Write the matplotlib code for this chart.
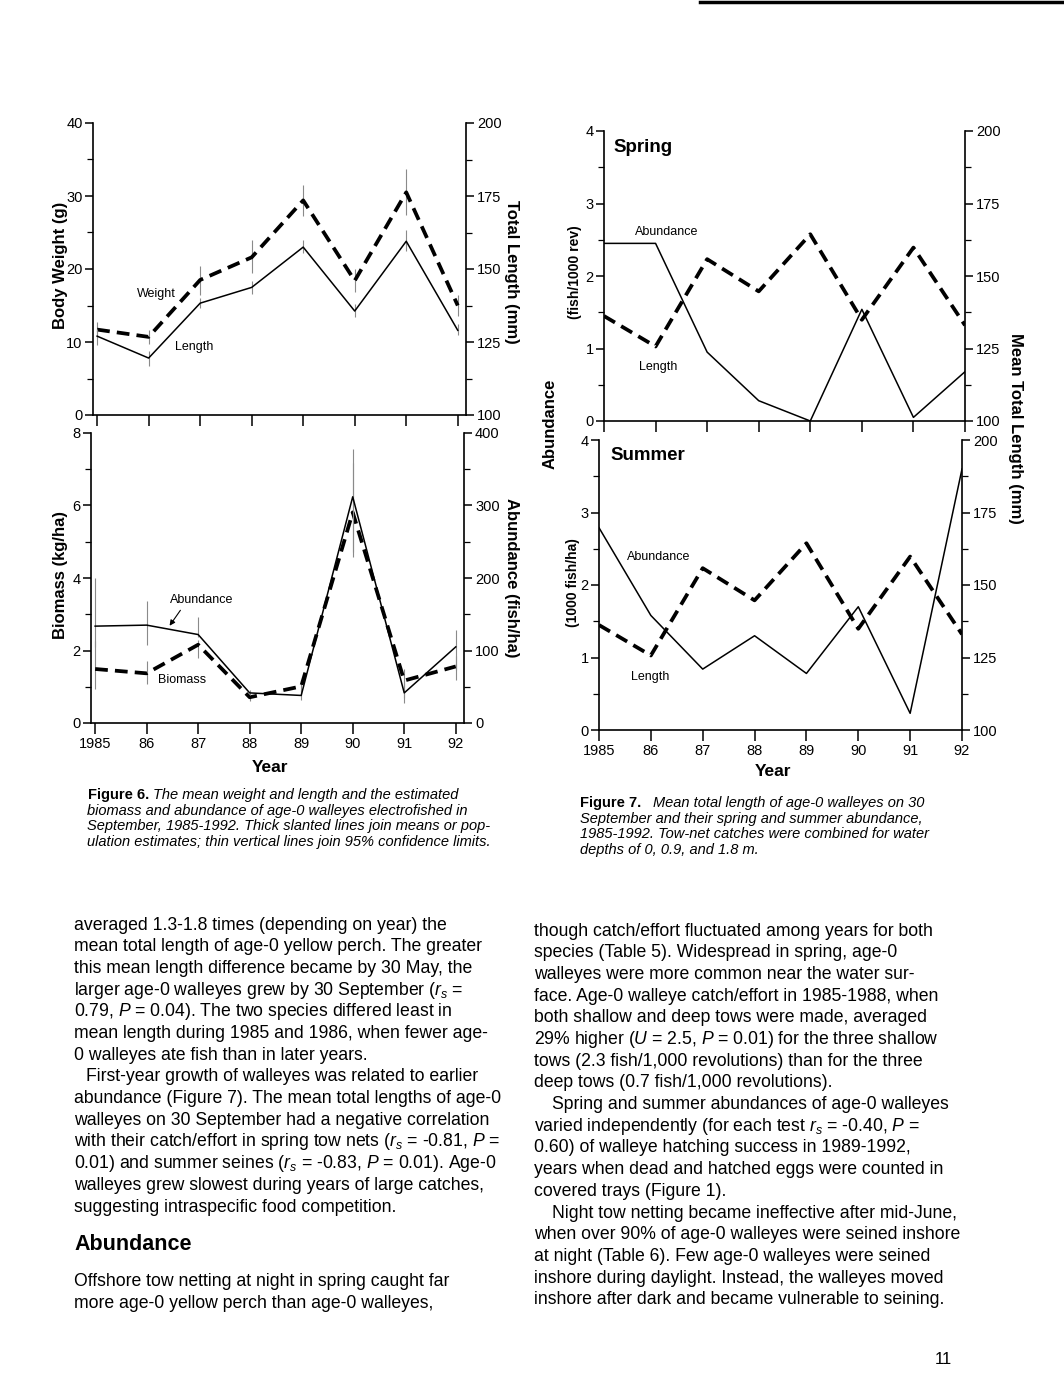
import numpy as np
import matplotlib
matplotlib.use("Agg")
import matplotlib.pyplot as plt
from matplotlib.ticker import MultipleLocator, FixedLocator
from matplotlib.lines import Line2D
from matplotlib.patches import FancyArrowPatch

plt.rcParams['font.family'] = ['Liberation Sans', 'DejaVu Sans']
plt.rcParams['mathtext.fontset'] = 'custom'
plt.rcParams['mathtext.rm'] = 'Liberation Sans'
plt.rcParams['mathtext.it'] = 'Liberation Sans:italic'
plt.rcParams['mathtext.bf'] = 'Liberation Sans:bold'

# %% data
years = [1985, 1986, 1987, 1988, 1989, 1990, 1991, 1992]
year_labels = ['1985', '86', '87', '88', '89', '90', '91', '92']

# Figure 6, top: weight (g, left axis) and length (mm, right axis)
weight = [11.7, 10.7, 18.5, 21.6, 29.4, 18.4, 30.5, 15.0]
weight_lo = [10.6, 9.7, 16.4, 19.4, 27.2, 16.8, 27.4, 13.6]
weight_hi = [12.7, 11.7, 20.4, 24.0, 31.5, 20.0, 33.7, 16.4]
length6 = [127.0, 119.5, 138.3, 143.7, 157.5, 135.6, 159.5, 129.0]
length6_lo = [124.1, 116.7, 136.5, 141.4, 155.4, 133.6, 156.3, 127.4]
length6_hi = [129.3, 122.0, 140.0, 146.0, 159.8, 138.0, 163.2, 131.0]

# Figure 6, bottom: biomass (kg/ha, left) and abundance (fish/ha, right)
biomass = [1.49, 1.37, 2.16, 0.71, 1.01, 5.81, 1.17, 1.56]
biomass_lo = [0.95, 1.07, 1.80, 0.60, 0.85, 4.57, 0.55, 1.20]
biomass_hi = [2.25, 1.72, 2.30, 0.80, 1.20, 7.17, 1.50, 1.85]
abund6 = [133.6, 135.0, 122.0, 41.5, 38.0, 312.0, 41.5, 105.0]
abund6_lo = [105.0, 108.0, 118.0, 38.0, 32.0, 236.0, 35.0, 73.0]
abund6_hi = [200.0, 168.0, 146.0, 45.0, 45.0, 378.0, 55.0, 128.0]

# Figure 7: spring / summer abundance and mean total length
spring = [2.45, 2.45, 0.95, 0.28, 0.0, 1.54, 0.05, 0.68]
summer = [2.79, 1.58, 0.84, 1.30, 0.78, 1.70, 0.23, 3.60]
length7 = [136.2, 125.7, 155.8, 144.7, 164.4, 134.9, 159.8, 133.0]

W, H = 1064, 1380
fig = plt.figure(figsize=(W / 100, H / 100), dpi=100)


def P(x, y):
    return (x / W, 1 - y / H)


def panel(l, t, r, b, xlim, xlab=False):
    ax = fig.add_axes([l / W, 1 - b / H, (r - l) / W, (b - t) / H])
    ax.set_xlim(*xlim)
    ax.spines['top'].set_visible(False)
    ax.spines['right'].set_visible(False)
    for s in ('left', 'bottom'):
        ax.spines[s].set_linewidth(1.2)
    ax.xaxis.set_major_locator(FixedLocator(years))
    ax.set_xticklabels(year_labels if xlab else [])
    ax.tick_params(axis='x', length=8, width=1.1, labelsize=10.5, pad=2)
    ax.tick_params(axis='y', which='major', length=6, width=1.1, labelsize=10.5, pad=1.5)
    ax.tick_params(axis='y', which='minor', length=4, width=0.9)
    tw = ax.twinx()
    for s in ('top', 'left', 'bottom'):
        tw.spines[s].set_visible(False)
    tw.spines['right'].set_linewidth(1.2)
    tw.tick_params(axis='y', which='major', length=6, width=1.1, labelsize=10.5, pad=2)
    tw.tick_params(axis='y', which='minor', length=4, width=0.9)
    return ax, tw


dash = dict(color='black', lw=2.7, linestyle=(0, (3.4, 1.9)), dash_capstyle='butt')
solid = dict(color='black', lw=1.1)
ci = dict(colors='#8a8a8a', lw=0.8)

# %% Figure 6 top
ax, tw = panel(93, 123, 466, 415, (1984.92, 1992.16))
ax.set_ylim(0, 40)
ax.yaxis.set_major_locator(MultipleLocator(10))
ax.yaxis.set_minor_locator(MultipleLocator(5))
tw.set_ylim(100, 200)
tw.yaxis.set_major_locator(MultipleLocator(25))
tw.yaxis.set_minor_locator(MultipleLocator(12.5))
ax.vlines(years, weight_lo, weight_hi, **ci)
tw.vlines(years, length6_lo, length6_hi, **ci)
ax.plot(years, weight, **dash)
tw.plot(years, length6, **solid)

# %% Figure 6 bottom
ax, tw = panel(91, 433, 464, 723, (1984.92, 1992.16), xlab=True)
ax.set_ylim(0, 8)
ax.yaxis.set_major_locator(MultipleLocator(2))
ax.yaxis.set_minor_locator(MultipleLocator(1))
tw.set_ylim(0, 400)
tw.yaxis.set_major_locator(MultipleLocator(100))
tw.yaxis.set_minor_locator(MultipleLocator(50))
ax.vlines(years, biomass_lo, biomass_hi, **ci)
tw.vlines(years, abund6_lo, abund6_hi, **ci)
ax.plot(years, biomass, **dash)
tw.plot(years, abund6, **solid)

# %% Figure 7 spring
ax, tw = panel(604, 131, 965, 421, (1985, 1992))
ax.set_ylim(0, 4)
ax.yaxis.set_major_locator(MultipleLocator(1))
ax.yaxis.set_minor_locator(MultipleLocator(0.5))
tw.set_ylim(100, 200)
tw.yaxis.set_major_locator(MultipleLocator(25))
tw.yaxis.set_minor_locator(MultipleLocator(12.5))
ax.plot(years, spring, **solid)
tw.plot(years, length7, **dash)

# %% Figure 7 summer
ax, tw = panel(599, 440, 962, 730, (1985, 1992), xlab=True)
ax.set_ylim(0, 4)
ax.yaxis.set_major_locator(MultipleLocator(1))
ax.yaxis.set_minor_locator(MultipleLocator(0.5))
tw.set_ylim(100, 200)
tw.yaxis.set_major_locator(MultipleLocator(25))
tw.yaxis.set_minor_locator(MultipleLocator(12.5))
ax.plot(years, summer, **solid)
tw.plot(years, length7, **dash)

# %% axis labels and in-plot labels
bold = dict(fontweight='bold', ha='center', va='center')
fig.text(*P(60, 265), 'Body Weight (g)', rotation=90, fontsize=12, **bold)
fig.text(*P(60, 575), 'Biomass (kg/ha)', rotation=90, fontsize=12, **bold)
fig.text(*P(512, 272), 'Total Length (mm)', rotation=270, fontsize=12, **bold)
fig.text(*P(512, 578), 'Abundance (fish/ha)', rotation=270, fontsize=12, **bold)
fig.text(*P(270, 767), 'Year', fontsize=12.5, **bold)
fig.text(*P(550, 424), 'Abundance', rotation=90, fontsize=12, **bold)
fig.text(*P(575, 272), '(fish/1000 rev)', rotation=90, fontsize=10, **bold)
fig.text(*P(573, 583), '(1000 fish/ha)', rotation=90, fontsize=10, **bold)
fig.text(*P(1016, 428), 'Mean Total Length (mm)', rotation=270, fontsize=12, **bold)
fig.text(*P(773, 771), 'Year', fontsize=12.5, **bold)
fig.text(*P(613, 147), 'Spring', fontsize=13.5, fontweight='bold', va='center')
fig.text(*P(610, 455), 'Summer', fontsize=13.5, fontweight='bold', va='center')

small = dict(fontsize=9, va='center')
fig.text(*P(137, 294), 'Weight', **small)
fig.text(*P(175, 347), 'Length', **small)
fig.text(*P(170, 600), 'Abundance', **small)
fig.text(*P(158, 680), 'Biomass', **small)
fig.text(*P(635, 232), 'Abundance', **small)
fig.text(*P(639, 367), 'Length', **small)
fig.text(*P(627, 557), 'Abundance', **small)
fig.text(*P(631, 677), 'Length', **small)
fig.add_artist(FancyArrowPatch(
    P(182, 608), P(168, 628), transform=fig.transFigure,
    arrowstyle='-|>', mutation_scale=8, lw=0.8, color='black'))

# %% captions
cap6 = ['The mean weight and length and the estimated',
        'biomass and abundance of age-0 walleyes electrofished in',
        'September, 1985-1992. Thick slanted lines join means or pop-',
        'ulation estimates; thin vertical lines join 95% confidence limits.']
cap7 = ['Mean total length of age-0 walleyes on 30',
        'September and their spring and summer abundance,',
        '1985-1992. Tow-net catches were combined for water',
        'depths of 0, 0.9, and 1.8 m.']
fig.text(*P(88, 795), 'Figure 6.', fontsize=10.5, fontweight='bold', va='center')
fig.text(*P(580, 803), 'Figure 7.', fontsize=10.5, fontweight='bold', va='center')
for i, s in enumerate(cap6):
    fig.text(*P(153 if i == 0 else 87, 795 + 15.7 * i), s, fontsize=10.5,
             style='italic', va='center')
for i, s in enumerate(cap7):
    fig.text(*P(653 if i == 0 else 580, 803 + 15.7 * i), s, fontsize=10.5,
             style='italic', va='center')

# %% body text
left_col = [
    'averaged 1.3-1.8 times (depending on year) the',
    'mean total length of age-0 yellow perch. The greater',
    'this mean length difference became by 30 May, the',
    r'larger age-0 walleyes grew by 30 September ($r_s$ =',
    r'0.79, $P$ = 0.04). The two species differed least in',
    'mean length during 1985 and 1986, when fewer age-',
    '0 walleyes ate fish than in later years.',
    'First-year growth of walleyes was related to earlier',
    'abundance (Figure 7). The mean total lengths of age-0',
    'walleyes on 30 September had a negative correlation',
    r'with their catch/effort in spring tow nets ($r_s$ = -0.81, $P$ =',
    r'0.01) and summer seines ($r_s$ = -0.83, $P$ = 0.01). Age-0',
    'walleyes grew slowest during years of large catches,',
    'suggesting intraspecific food competition.',
]
left_indent = [7]
right_col = [
    'though catch/effort fluctuated among years for both',
    'species (Table 5). Widespread in spring, age-0',
    'walleyes were more common near the water sur-',
    'face. Age-0 walleye catch/effort in 1985-1988, when',
    'both shallow and deep tows were made, averaged',
    r'29% higher ($U$ = 2.5, $P$ = 0.01) for the three shallow',
    'tows (2.3 fish/1,000 revolutions) than for the three',
    'deep tows (0.7 fish/1,000 revolutions).',
    'Spring and summer abundances of age-0 walleyes',
    r'varied independently (for each test $r_s$ = -0.40, $P$ =',
    '0.60) of walleye hatching success in 1989-1992,',
    'years when dead and hatched eggs were counted in',
    'covered trays (Figure 1).',
    'Night tow netting became ineffective after mid-June,',
    'when over 90% of age-0 walleyes were seined inshore',
    'at night (Table 6). Few age-0 walleyes were seined',
    'inshore during daylight. Instead, the walleyes moved',
    'inshore after dark and became vulnerable to seining.',
]
right_indent = [8, 13]
body = dict(fontsize=12.7, va='center')
for i, s in enumerate(left_col):
    x = 86 if i in left_indent else 74
    fig.text(*P(x, 925 + 21.7 * i), s, **body)
fig.text(*P(74, 1245), 'Abundance', fontsize=15.5, fontweight='bold', va='center')
fig.text(*P(74, 1282), 'Offshore tow netting at night in spring caught far', **body)
fig.text(*P(74, 1304), 'more age-0 yellow perch than age-0 walleyes,', **body)
for i, s in enumerate(right_col):
    x = 552 if i in right_indent else 534
    fig.text(*P(x, 931 + 21.7 * i), s, **body)

fig.text(*P(935, 1360), '11', fontsize=12, va='center')
fig.add_artist(Line2D([700 / W, 1.0], [1 - 2 / H, 1 - 2 / H], color='black', lw=2.5))

fig.savefig('out.png', dpi=100)
